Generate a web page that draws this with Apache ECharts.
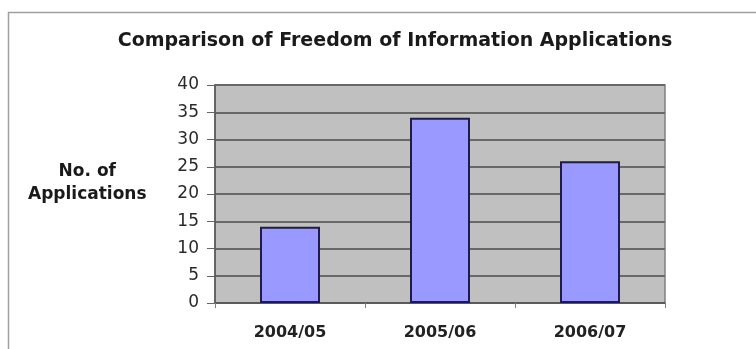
<!DOCTYPE html>
<html>
<head>
<meta charset="utf-8">
<script src="https://cdn.jsdelivr.net/npm/echarts@6/dist/echarts.min.js"></script>
<style>html,body{margin:0;padding:0;background:#fff}#c{width:756px;height:349px}</style>
</head>
<body>
<div id="c"></div>
<script>
var categories = ['2004/05', '2005/06', '2006/07'];
var applications = [14, 34, 26];
var titleText = 'Comparison of Freedom of Information Applications';
var yAxisTitle = 'No. of\nApplications';

var FONT = 'DejaVu Sans, Verdana, sans-serif';
var chart = echarts.init(document.getElementById('c'));
chart.setOption({
  backgroundColor: '#ffffff',
  animation: false,
  title: {
    text: titleText,
    left: 390, top: 27, textAlign: 'center',
    textStyle: {fontFamily: FONT, fontWeight: 'bold', fontSize: 19, color: '#1a1a1a'}
  },
  graphic: [
    {type: 'rect', shape: {x: 8.5, y: 12.5, width: 800, height: 400}, style: {fill: 'none', stroke: '#a0a0a0', lineWidth: 1.5}, silent: true, z: -1},
    {type: 'text', left: 28, top: 160, style: {text: yAxisTitle, textAlign: 'center', fontFamily: FONT, fontWeight: 'bold', fontSize: 17, lineHeight: 23, fill: '#1a1a1a'}}
  ],
  grid: {left: 215, right: 91, top: 85, bottom: 46, show: true, backgroundColor: '#c0c0c0', borderColor: '#808080', borderWidth: 1.5},
  xAxis: {
    type: 'category', data: categories,
    axisLine: {lineStyle: {color: '#555', width: 1.5}},
    axisTick: {show: true, length: 5, lineStyle: {color: '#808080'}},
    axisLabel: {fontFamily: FONT, fontWeight: 'bold', fontSize: 16, color: '#222', margin: 22}
  },
  yAxis: {
    type: 'value', min: 0, max: 40, interval: 5,
    axisLine: {show: true, lineStyle: {color: '#555', width: 1.5}},
    axisTick: {show: true, length: 8, lineStyle: {color: '#666'}},
    axisLabel: {fontFamily: FONT, fontSize: 17, color: '#2a2a2a', margin: 16},
    splitLine: {lineStyle: {color: '#686868', width: 1.8}}
  },
  series: [{
    type: 'bar', data: applications, barWidth: '40%',
    itemStyle: {color: '#9999ff', borderColor: '#1c1c50', borderWidth: 2}
  }]
});
</script>
</body>
</html>
